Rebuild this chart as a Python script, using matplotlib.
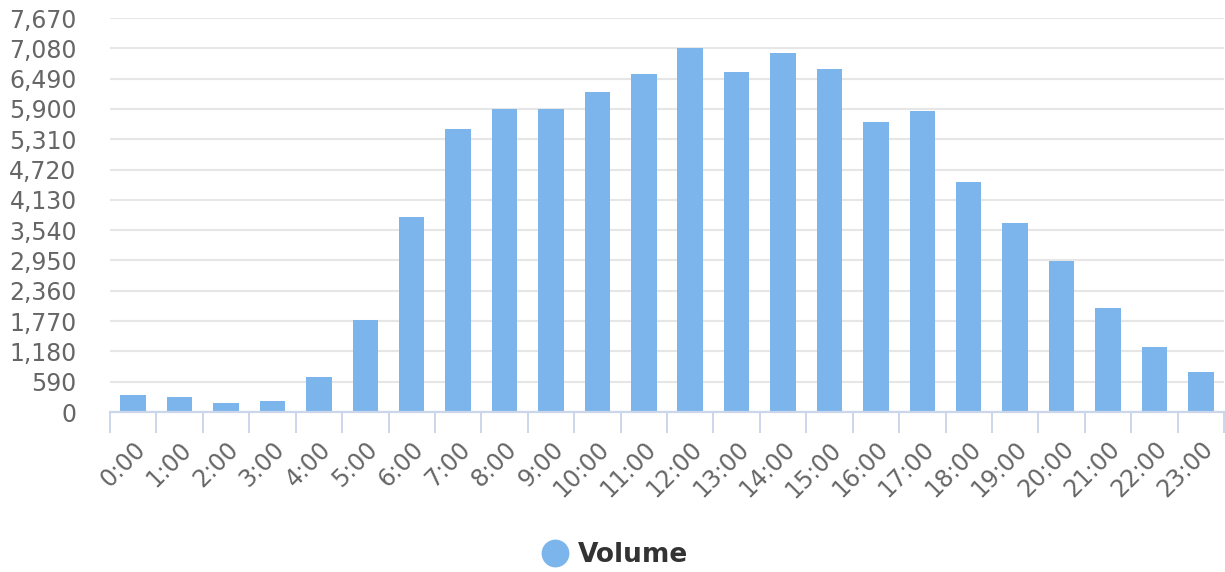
import numpy as np
import matplotlib
matplotlib.use("Agg")
import matplotlib.pyplot as plt
from matplotlib.lines import Line2D

hours = [f"{h}:00" for h in range(24)]
volume = [331, 292, 169, 214, 675, 1800, 3793, 5516, 5900, 5900, 6239, 6580,
          7080, 6626, 6993, 6681, 5650, 5862, 4473, 3673, 2945, 2023, 1263, 783]
yticks = [0, 590, 1180, 1770, 2360, 2950, 3540, 4130, 4720, 5310, 5900, 6490, 7080, 7670]

BAR = "#7cb5ec"
GRID = "#e6e6e6"
AXIS = "#ccd6eb"
TXT = "#666666"

fig = plt.figure(figsize=(12.25, 5.72), dpi=100)
ax = fig.add_axes([0.0898, 0.2797, 0.9094, 0.6888])

x = np.arange(len(hours))
ax.bar(x, volume, width=0.55, color=BAR, zorder=3)

ax.set_xlim(-0.5, len(hours) - 0.5)
ax.set_ylim(0, 7670)
ax.set_yticks(yticks)
ax.set_yticklabels([f"{v:,}" for v in yticks])
ax.yaxis.grid(True, color=GRID, lw=1.5, zorder=0)
ax.set_axisbelow(True)

for s in ["top", "right", "left"]:
    ax.spines[s].set_visible(False)
ax.spines["bottom"].set_color(AXIS)
ax.spines["bottom"].set_linewidth(1.6)
ax.spines["bottom"].set_zorder(4)

ax.tick_params(axis="y", length=0, pad=24, labelsize=17, labelcolor=TXT)
ax.set_xticks(x)
ax.set_xticklabels(hours, rotation=45, ha="right", va="top", rotation_mode="anchor")
ax.tick_params(axis="x", which="major", length=0, pad=18, labelsize=17, labelcolor=TXT)
ax.set_xticks(np.arange(-0.5, len(hours)), minor=True)
ax.tick_params(axis="x", which="minor", length=15, width=1.4, color=AXIS)

# legend below the plot
handle = Line2D([], [], marker="o", ls="", color=BAR, markersize=19)
fig.legend([handle], ["Volume"], loc="center", bbox_to_anchor=(0.502, 0.03),
           frameon=False, handlelength=1.0, handletextpad=0.38, borderaxespad=0,
           prop={"size": 19, "weight": "bold"}, labelcolor="#333333")

fig.savefig("out.png", dpi=100)
